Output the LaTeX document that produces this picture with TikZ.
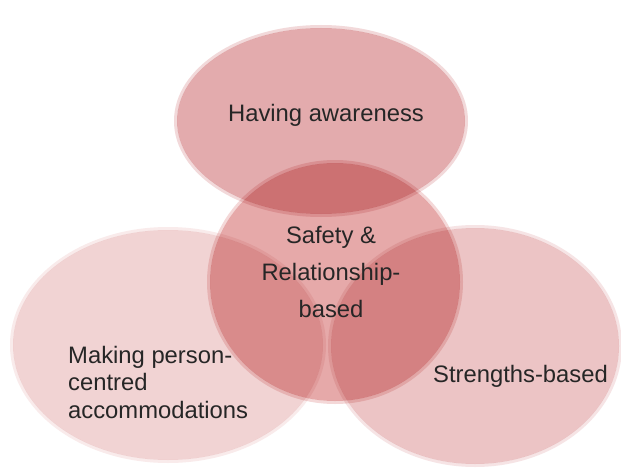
\documentclass[tikz,border=0pt]{standalone}
\usepackage{fontspec}
\setmainfont{Liberation Sans}
\usetikzlibrary{positioning}
\definecolor{topred}{HTML}{E3ABAD}
\definecolor{midred}{HTML}{E6A9A9}
\definecolor{leftred}{HTML}{F1D3D3}
\definecolor{rightred}{HTML}{ECC4C5}
\definecolor{txtgray}{HTML}{262626}
\tikzset{
  rim/.style={fill=#1!45!white,even odd rule},
  core/.style={fill=#1},
  venntext/.style={inner sep=0pt,text=txtgray,font=\fontsize{23.8}{28}\selectfont}
}

\begin{document}
\begin{tikzpicture}[x=1pt,y=-1pt]
\useasboundingbox (0,0) rectangle (621,468);
\fill[white] (0,0) rectangle (621,468);
\coordinate (aware) at (321,121);
\coordinate (safe) at (335,282);
\coordinate (person) at (168,345);
\coordinate (strength) at (475,346);
\begin{scope}[blend group=multiply]
% top ellipse
\path[rim=topred] (aware) ellipse [x radius=147pt,y radius=96pt] (aware) ellipse [x radius=144pt,y radius=93pt];
\path[core=topred] (aware) ellipse [x radius=144pt,y radius=93pt];
% centre circle
\path[rim=midred] (safe) ellipse [x radius=128pt,y radius=122pt] (safe) ellipse [x radius=125pt,y radius=119pt];
\path[core=midred] (safe) ellipse [x radius=125pt,y radius=119pt];
% left ellipse
\path[rim=leftred] (person) ellipse [x radius=158pt,y radius=118pt] (person) ellipse [x radius=155pt,y radius=115pt];
\path[core=leftred] (person) ellipse [x radius=155pt,y radius=115pt];
% right ellipse
\path[rim=rightred] (strength) ellipse [x radius=147pt,y radius=121pt] (strength) ellipse [x radius=144pt,y radius=118pt];
\path[core=rightred] (strength) ellipse [x radius=144pt,y radius=118pt];
\end{scope}
\node[venntext,anchor=base] (awaretxt) at (326,122) {Having awareness};
\node[venntext,anchor=base,align=center,font=\fontsize{23.8}{37}\selectfont] (safetxt) at (331,317) {Safety \&\\Relationship-\\based};
\node[venntext,anchor=base west,align=left,font=\fontsize{23.8}{27.5}\selectfont] (persontxt) at (68,418) {Making person-\\centred\\accommodations};
\node[venntext,anchor=base west] (strengthtxt) at (433,382) {Strengths-based};
\end{tikzpicture}
\end{document}
